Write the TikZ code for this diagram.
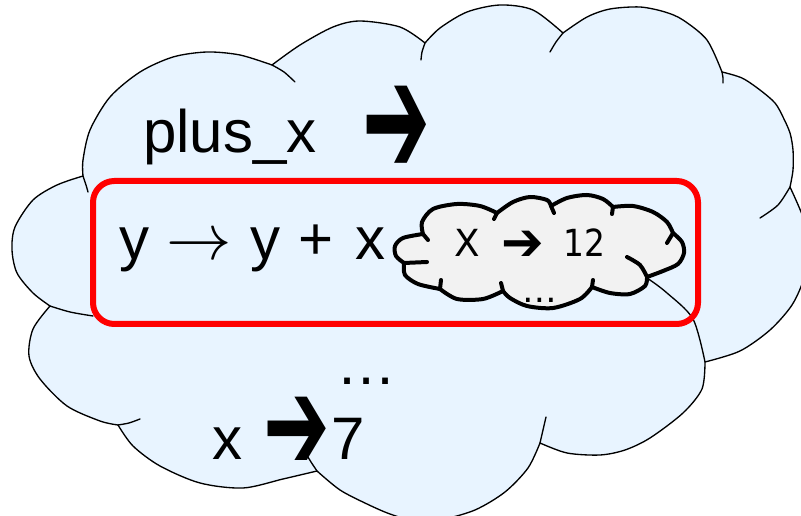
\documentclass[tikz,border=0pt]{standalone}
\usepackage{fontspec}
\setmainfont{Liberation Sans}
\newfontfamily\dejavu{DejaVu Sans}
\definecolor{cloudblue}{RGB}{232,244,255}
\definecolor{cloudgrey}{RGB}{242,242,242}
\newcommand{\bigrarrow}{\scalebox{4.9}{\fontsize{10}{12}\selectfont$\rightarrow$}}
\begin{document}
\begin{tikzpicture}[x=0.75pt,y=-0.75pt,
  bigcloud/.style={fill=cloudblue,draw=black,line width=1pt,line join=round},
  crease/.style={draw=black,line width=1pt,line cap=round},
  smallcloud/.style={fill=cloudgrey,draw=black,line width=3pt,line join=round},
  gcrease/.style={draw=black,line width=3pt,line cap=round},
  frame/.style={draw=red,line width=4.5pt,rounded corners=16pt},
  bigtxt/.style={inner sep=0pt,anchor=base west,font=\fontsize{45}{54}\selectfont},
  smalltxt/.style={inner sep=0pt,anchor=base west,font=\dejavu\fontsize{28}{32}\selectfont},
  arrowtxt/.style={inner sep=0pt,anchor=south west,font=\dejavu}]
\useasboundingbox (0,0) rectangle (801,516);
\clip (0,0) rectangle (801,516);
% big cloud
\path[bigcloud]
  plot[smooth] coordinates {(83,176) (83,160) (90,130) (110,97) (140,72) (173,57) (207,52) (240,55) (272,65)}
  -- plot[smooth] coordinates {(272,65) (300,45) (333,27) (360,21) (400,27) (425,43)}
  -- plot[smooth] coordinates {(425,43) (440,28) (467,12) (500,5) (533,10) (563,33)}
  -- plot[smooth] coordinates {(563,33) (587,17) (610,9) (640,7) (665,12) (683,20) (707,40) (722,72)}
  -- plot[smooth] coordinates {(722,72) (742,78) (760,90) (775,103) (783,117) (790,133) (793,150) (793,170) (790,187)}
  -- plot[smooth] coordinates {(790,187) (804,220) (808,249) (804,278) (792,305) (770,330) (740,351) (705,362)}
  -- plot[smooth] coordinates {(705,362) (702,389) (683,413) (650,438) (625,450) (600,455) (567,453) (540,443)}
  -- plot[smooth] coordinates {(540,443) (528,468) (505,492) (475,510) (440,520) (415,521) (390,514) (367,504) (340,490) (317,471)}
  -- plot[smooth] coordinates {(317,471) (283,479) (243,488) (200,483) (160,466) (133,446) (118,425)}
  -- plot[smooth] coordinates {(118,425) (100,421) (67,406) (40,379) (29,356) (33,329) (50,306)}
  -- plot[smooth] coordinates {(50,306) (33,293) (17,273) (12,250) (15,227) (33,200) (57,185) (83,176)}
  -- cycle;
% creases of the big cloud
\draw[crease] plot[smooth] coordinates {(83,176) (86,185) (88,192)};
\draw[crease] plot[smooth] coordinates {(272,65) (284,72) (295,82)};
\draw[crease] plot[smooth] coordinates {(425,43) (422,52) (421,60)};
\draw[crease] plot[smooth] coordinates {(563,33) (556,42) (550,52)};
\draw[crease] plot[smooth] coordinates {(722,72) (723,78) (723,83)};
\draw[crease] plot[smooth] coordinates {(790,187) (778,205) (760,218)};
\draw[crease] plot[smooth] coordinates {(705,362) (693,319) (667,293) (647,278) (630,268)};
\draw[crease] plot[smooth] coordinates {(540,443) (543,430) (546,417)};
\draw[crease] plot[smooth] coordinates {(317,471) (311,462) (305,452)};
\draw[crease] plot[smooth] coordinates {(118,425) (129,423) (140,419)};
\draw[crease] plot[smooth] coordinates {(50,306) (70,312) (93,316)};
% red frame
\draw[frame] (93,181) rectangle (698,324);
% texts
\node[bigtxt] (plus) at (143,153) {plus\_x};
\node[arrowtxt] (arr1) at (362,176) {\resizebox{51pt}{67pt}{➔}};
\node[bigtxt] (fun) at (119,260) {y\hspace{13pt}\bigrarrow\hspace{14pt}y\hspace{13.5pt}+\hspace{16.5pt}x};
\node[bigtxt] (dots) at (336,385) {…};
\node[bigtxt] (xx) at (212,460) {x};
\node[arrowtxt] (arr2) at (263,471) {\resizebox{50pt}{55pt}{➔}\hspace{-6.5pt}};
\node[bigtxt] (seven) at (331,460) {7};
% small grey cloud
\path[smallcloud]
  plot[smooth] coordinates {(423,234) (422,222) (433,209) (457,204) (480,206) (497,213)}
  -- plot[smooth] coordinates {(497,213) (513,202) (530,197) (547,200) (551,206)}
  -- plot[smooth] coordinates {(551,206) (567,198) (587,195) (603,199) (613,207)}
  -- plot[smooth] coordinates {(613,207) (633,206) (653,212) (667,222) (673,233)}
  -- plot[smooth] coordinates {(673,233) (682,242) (684,253) (678,264) (663,271) (647,277)}
  -- plot[smooth] coordinates {(647,277) (645,286) (630,294) (610,293) (592,287)}
  -- plot[smooth] coordinates {(592,287) (580,299) (553,308) (527,306) (510,298) (503,291)}
  -- plot[smooth] coordinates {(503,291) (483,299) (457,299) (440,289)}
  -- plot[smooth] coordinates {(440,289) (418,284) (405,275) (404,263)}
  -- plot[smooth] coordinates {(404,263) (396,256) (395,246) (403,238) (423,234)}
  -- cycle;
\draw[gcrease] (423,234) -- (428,240);
\draw[gcrease] (404,263) -- (427,262);
\draw[gcrease] (440,289) -- (441,280);
\draw[gcrease] (503,291) -- (501,283);
\draw[gcrease] (592,287) -- (593,280);
\draw[gcrease] plot[smooth] coordinates {(647,277) (640,265) (627,257)};
\draw[gcrease] (673,233) -- (667,243);
\draw[gcrease] (613,207) -- (612,214);
\draw[gcrease] (551,206) -- (554,213);
\draw[gcrease] (497,213) -- (494,219);
% grey cloud texts
\node[smalltxt] (gx) at (454,257) {X};
\node[arrowtxt] (garr) at (501,261) {\resizebox{32pt}{22pt}{➔}};
\node[smalltxt] (g12) at (563,257) {\scalebox{0.88}[1]{12}};
\node[smalltxt,font=\dejavu\fontsize{26}{30}\selectfont] (gdots) at (522,303) {…};
\end{tikzpicture}
\end{document}
